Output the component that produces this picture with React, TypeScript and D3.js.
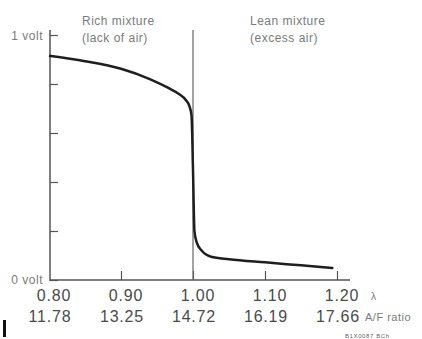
import { useRef, useEffect } from 'react'
import * as d3 from 'd3'

// lambda (air ratio) and sensor voltage
const lambdaValues = [0.80, 0.85, 0.90, 0.94, 0.965, 0.98, 0.99, 0.995, 0.998, 1.000, 1.002, 1.005, 1.012, 1.025, 1.05, 1.10, 1.15, 1.195]
const voltValues = [0.915, 0.893, 0.862, 0.820, 0.785, 0.760, 0.735, 0.710, 0.670, 0.450, 0.200, 0.155, 0.120, 0.095, 0.085, 0.072, 0.060, 0.049]

const lambdaTicks = [0.80, 0.90, 1.00, 1.10, 1.20]
const afrLabels = ['11.78', '13.25', '14.72', '16.19', '17.66']
const voltTicks = [0, 0.2, 0.4, 0.6, 0.8, 1]

const App = () => {
  const svgRef = useRef<SVGSVGElement>(null)

  useEffect(() => {
    const width = 422
    const height = 339
    const svg = d3.select(svgRef.current).attr('width', width).attr('height', height)
    svg.selectAll('*').remove()

    const x = d3.scaleLinear().domain([0.8, 1.2]).range([49, 337])
    const y = d3.scaleLinear().domain([0, 1]).range([280, 35])
    const axisColor = '#555'
    const font = 'Liberation Sans, Arial, sans-serif'

    // y-akseli, tikit sisäänpäin
    svg.append('g')
      .attr('transform', `translate(${x(0.8) + 1}, 0)`)
      .call(d3.axisRight(y).tickValues(voltTicks).tickSize(8).tickFormat(() => ''))
      .call(g => g.select('.domain').remove())
      .call(g => g.selectAll('.tick line').attr('stroke', axisColor).attr('stroke-width', 1.2))

    svg.append('line')
      .attr('x1', x(0.8) + 1).attr('x2', x(0.8) + 1)
      .attr('y1', 30).attr('y2', y(0) + 1)
      .attr('stroke', axisColor).attr('stroke-width', 1.5)

    // x-akseli, tikit ylöspäin
    svg.append('g')
      .attr('transform', `translate(0, ${y(0)})`)
      .call(d3.axisTop(x).tickValues(lambdaTicks.slice(1)).tickSize(9).tickFormat(() => ''))
      .call(g => g.select('.domain').remove())
      .call(g => g.selectAll('.tick line').attr('stroke', axisColor).attr('stroke-width', 1.2))

    svg.append('line')
      .attr('x1', x(0.8) + 1).attr('x2', 350)
      .attr('y1', y(0)).attr('y2', y(0))
      .attr('stroke', axisColor).attr('stroke-width', 1.5)

    // stoikiometrinen raja
    svg.append('line')
      .attr('x1', x(1)).attr('x2', x(1))
      .attr('y1', 30).attr('y2', y(0))
      .attr('stroke', '#666').attr('stroke-width', 1.2)

    // käyrä
    const line = d3.line<number>()
      .x((_, i) => x(lambdaValues[i]))
      .y(d => y(d))
      .curve(d3.curveMonotoneX)

    svg.append('path')
      .datum(voltValues)
      .attr('d', line)
      .attr('fill', 'none')
      .attr('stroke', '#1e1e1e')
      .attr('stroke-width', 2.5)
      .attr('stroke-linejoin', 'round')

    // tick labels
    const labels = svg.append('g')
      .style('font-family', font)
      .attr('fill', '#4a4a4a')
      .style('font-size', '16px')
      .style('letter-spacing', '0.8px')
      .attr('text-anchor', 'middle')

    labels.selectAll('text.lam')
      .data(lambdaTicks)
      .join('text')
      .attr('class', 'lam')
      .attr('x', d => x(d) + 5)
      .attr('y', 301)
      .text(d => d.toFixed(2))

    labels.selectAll('text.afr')
      .data(afrLabels)
      .join('text')
      .attr('class', 'afr')
      .attr('x', (_, i) => x(lambdaTicks[i]) + 1)
      .attr('y', 322)
      .text(d => d)

    const small = svg.append('g')
      .style('font-family', font)
      .attr('fill', '#7a7a7a')
      .style('font-size', '12px')
      .style('letter-spacing', '0.5px')

    small.append('text').attr('x', 43).attr('y', y(1) + 5).attr('text-anchor', 'end').text('1 volt')
    small.append('text').attr('x', 43).attr('y', y(0) + 4).attr('text-anchor', 'end').text('0 volt')
    small.append('text').attr('x', 82).attr('y', 25).text('Rich mixture')
    small.append('text').attr('x', 82).attr('y', 42).text('(lack of air)')
    small.append('text').attr('x', 250).attr('y', 25).text('Lean mixture')
    small.append('text').attr('x', 250).attr('y', 42).text('(excess air)')

    svg.append('text')
      .attr('x', 371).attr('y', 300)
      .style('font-family', font).style('font-size', '10px')
      .attr('fill', '#7a7a7a')
      .text('λ')

    svg.append('text')
      .attr('x', 365).attr('y', 321)
      .style('font-family', font).style('font-size', '11px').style('letter-spacing', '0.5px')
      .attr('fill', '#7a7a7a')
      .text('A/F ratio')

    svg.append('text')
      .attr('x', 345).attr('y', 337.5)
      .style('font-family', font).style('font-size', '6px').style('letter-spacing', '0.6px')
      .attr('fill', '#666')
      .text('B1X0087 BCh')

    svg.append('rect')
      .attr('x', 3).attr('y', 320).attr('width', 3).attr('height', 17)
      .attr('fill', '#111')
  }, [])

  return (
    <div style={{ position: 'fixed', left: 0, top: 0, background: '#fff' }}>
      <svg ref={svgRef} style={{ display: 'block' }}></svg>
    </div>
  )
}

export default App
